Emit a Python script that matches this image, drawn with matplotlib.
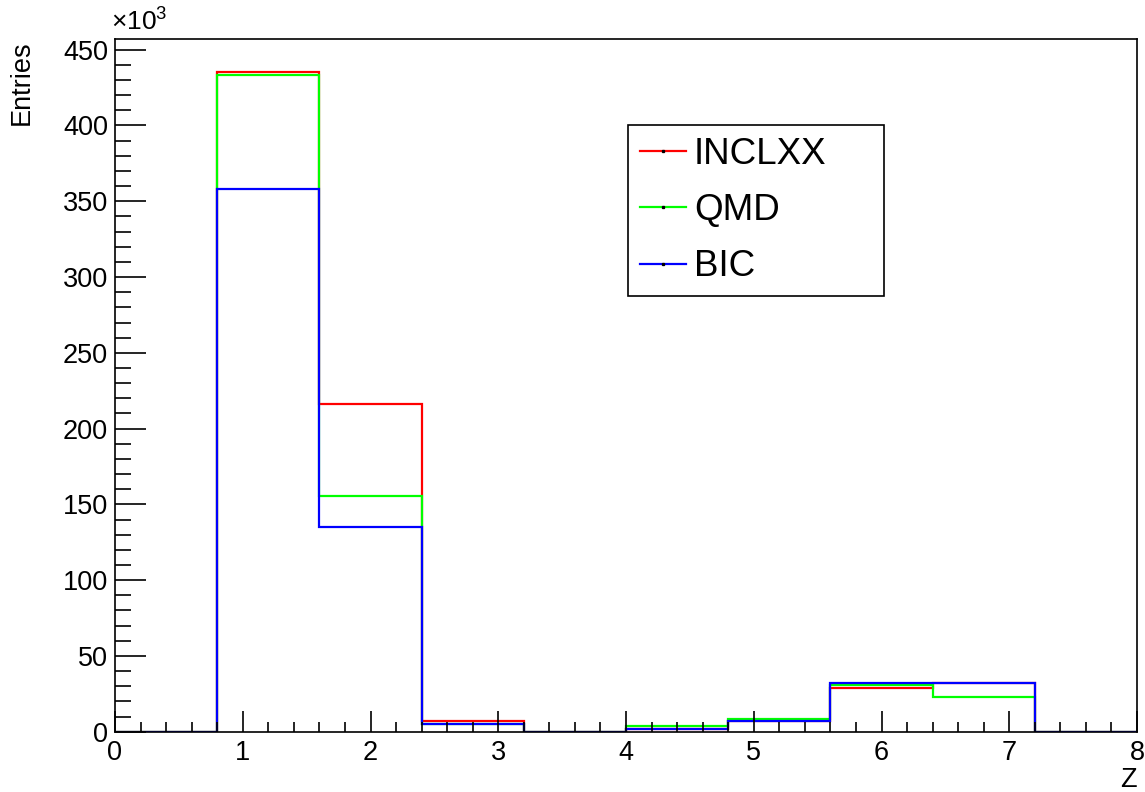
import matplotlib
matplotlib.use("Agg")
import matplotlib.pyplot as plt
from matplotlib.lines import Line2D
from matplotlib.ticker import MultipleLocator, FuncFormatter
import numpy as np

# ---- data (entries per bin of Z) ----
bin_edges = [0.0, 0.8, 1.6, 2.4, 3.2, 4.0, 4.8, 5.6, 6.4, 7.2, 8.0]
inclxx = [0, 435300, 216000, 7300, 0, 2000, 7300, 28800, 32300, 0]
qmd    = [0, 433600, 155200, 5000, 0, 3600, 8400, 30800, 22700, 0]
bic    = [0, 357800, 135000, 5000, 0, 2000, 7300, 32300, 32300, 0]
series_names = ["INCLXX", "QMD", "BIC"]
series_colors = ["#ff0000", "#00ff00", "#0000ff"]
x_label = "Z"
y_label = "Entries"

plt.rcParams['font.family'] = ['Liberation Sans', 'DejaVu Sans']
plt.rcParams['mathtext.fontset'] = 'custom'
plt.rcParams['mathtext.rm'] = 'Liberation Sans'
plt.rcParams['mathtext.it'] = 'Liberation Sans'

W, H = 1145, 792
fig = plt.figure(figsize=(W/100, H/100), dpi=100)
ax_l, ax_r, ax_t, ax_b = 115, 1137, 39, 731.7
ax = fig.add_axes([ax_l/W, 1 - ax_b/H, (ax_r-ax_l)/W, (ax_b-ax_t)/H])

for vals, col in zip([inclxx, qmd, bic], series_colors):
    ax.stairs(vals, bin_edges, color=col, linewidth=1.6, baseline=0)

ymax = 1.05 * max(max(inclxx), max(qmd), max(bic))
ax.set_xlim(0, 8)
ax.set_ylim(0, ymax)

ax.xaxis.set_major_locator(MultipleLocator(1))
ax.xaxis.set_minor_locator(MultipleLocator(0.2))
ax.yaxis.set_major_locator(MultipleLocator(50000))
ax.yaxis.set_minor_locator(MultipleLocator(10000))
ax.yaxis.set_major_formatter(FuncFormatter(lambda v, p: f"{v/1000:.0f}"))

ax.tick_params(axis='both', which='both', direction='in', top=False, right=False,
               labelsize=19.5, width=1.2, color='black')
ax.tick_params(axis='y', which='major', length=22.5, pad=5)
ax.tick_params(axis='y', which='minor', length=11.2)
ax.tick_params(axis='x', which='major', length=15, pad=6)
ax.tick_params(axis='x', which='minor', length=7)
for s in ax.spines.values():
    s.set_linewidth(1.2)

# axis titles, ROOT-style (right-aligned at axis ends)
fig.text(1137/W, 1 - 780/H, x_label, ha='right', va='center', fontsize=19.5)
fig.text(22/W, 1 - 40/H, y_label, ha='center', va='top', rotation=90, fontsize=19.5)
fig.text(111/W, 1 - 36/H, r"$\times10^{3}$", ha='left', va='bottom', fontsize=19)

# legend box in axes coordinates
lx0 = (628 - ax_l) / (ax_r - ax_l)
lx1 = (884 - ax_l) / (ax_r - ax_l)
ly1 = (ax_b - 125) / (ax_b - ax_t)
ly0 = (ax_b - 298) / (ax_b - ax_t)

handles = [Line2D([0], [0], color=c, linewidth=1.6, marker='s', markersize=1.4,
                  markerfacecolor='k', markeredgecolor='k') for c in series_colors]
leg = ax.legend(handles, series_names, loc='upper left',
                bbox_to_anchor=(lx0, ly0, lx1 - lx0, ly1 - ly0), mode='expand',
                fontsize=26.5, frameon=True, fancybox=False, framealpha=1,
                edgecolor='black', handlelength=1.25, handletextpad=0.22,
                borderpad=0.32, labelspacing=0.58, numpoints=1, borderaxespad=0)
leg.get_frame().set_linewidth(1.2)

fig.savefig("out.png", dpi=100)
